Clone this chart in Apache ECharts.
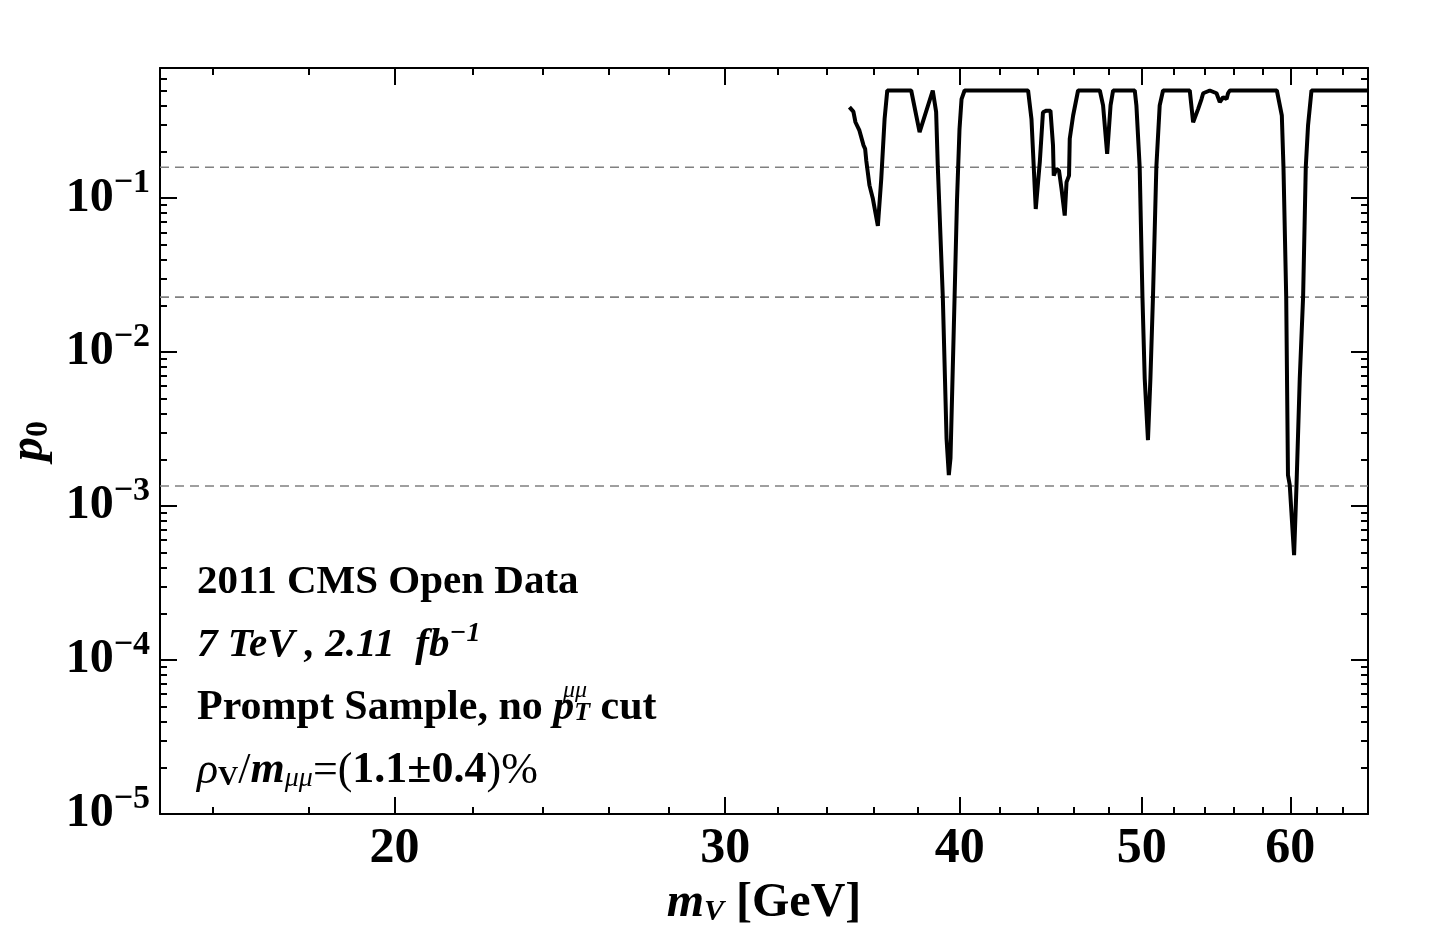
<!DOCTYPE html>
<html>
<head>
<meta charset="utf-8">
<title>p0 scan</title>
<script src="https://cdn.jsdelivr.net/npm/echarts@6/dist/echarts.min.js"></script>
<style>
    html, body { margin: 0; padding: 0; background: #fff; }
    #chart { width: 1438px; height: 936px; }
</style>
</head>
<body>
<div id="chart"></div>
<script>
'use strict';

// scan points
const massGeV = [
    34.94, 35.11, 35.20, 35.37, 35.55, 35.62, 35.67, 35.81, 35.96, 36.18,
    36.33, 36.48, 36.60, 37.69, 38.08, 38.70, 38.86, 38.94, 39.18, 39.36,
    39.47, 39.55, 39.75, 39.87, 39.99, 40.09, 40.24, 43.50, 43.68, 43.91,
    44.13, 44.30, 44.49, 44.71, 44.85, 44.89, 45.04, 45.18, 45.32, 45.50,
    45.60, 45.74, 45.78, 45.97, 46.25, 47.50, 47.69, 47.93, 48.13, 48.28,
    49.58, 49.68, 49.88, 50.05, 50.19, 50.39, 50.54, 50.70, 50.91, 51.12,
    51.33, 53.04, 53.26, 53.59, 53.81, 53.92, 54.36, 54.81, 55.03, 55.26,
    55.49, 55.59, 55.71, 59.02, 59.38, 59.50, 59.70, 59.83, 59.96, 60.28,
    60.46, 60.70, 60.95, 61.15, 61.32, 61.58, 66.0
];
const pValue = [
    0.39, 0.365, 0.311, 0.275, 0.22, 0.209, 0.175, 0.121, 0.099, 0.066,
    0.133, 0.327, 0.5, 0.5, 0.268, 0.5, 0.363, 0.16, 0.0228, 0.00274,
    0.00159, 0.00204, 0.0228, 0.099, 0.28, 0.44, 0.5, 0.5, 0.327, 0.085,
    0.172, 0.361, 0.37, 0.37, 0.22, 0.14, 0.155, 0.151, 0.115, 0.077,
    0.127, 0.14, 0.243, 0.344, 0.5, 0.5, 0.4, 0.194, 0.4, 0.5,
    0.5, 0.4, 0.159, 0.0228, 0.0067, 0.00268, 0.0067, 0.0228, 0.159, 0.4,
    0.5, 0.5, 0.311, 0.38, 0.44, 0.48, 0.5, 0.48, 0.42, 0.452,
    0.44, 0.48, 0.5, 0.5, 0.344, 0.159, 0.0228, 0.00159, 0.00137, 0.00048,
    0.00137, 0.0067, 0.0228, 0.159, 0.296, 0.5, 0.5
];

// 1, 2, 3 sigma reference lines
const sigmaLevels = [0.1587, 0.02275, 0.00135];

const xMajorTicks = [20, 30, 40, 50, 60];
const xMinorTicks = [16, 18, 22, 24, 26, 28, 32, 34, 36, 38, 42, 44, 46, 48, 52, 54, 56, 58, 62, 64];
const yMajorTicks = [1e-5, 1e-4, 1e-3, 1e-2, 1e-1];

const xRange = [15, 66];
const yRange = [1e-5, 0.7];

const yMinorTicks = [];
yMajorTicks.forEach(dec => {
    for (let k = 2; k <= 9; k++) {
        const v = +(dec * k).toPrecision(3);
        if (v < yRange[1]) yMinorTicks.push(v);
    }
});

const serif = '"Liberation Serif", "DejaVu Serif", serif';

const points = massGeV.map((m, i) => [m, pValue[i]]);

// one axis per side for the long ticks, one more for the short ones
const makeX = (pos, ticks, len, withLabels) => ({
    type: 'log',
    position: pos,
    min: xRange[0],
    max: xRange[1],
    gridIndex: 0,
    axisLine: { show: len > 10, lineStyle: { color: '#000', width: 2 } },
    axisTick: { show: true, inside: true, length: len, customValues: ticks, lineStyle: { color: '#000', width: 2 } },
    axisLabel: withLabels ? {
        show: true,
        customValues: ticks,
        margin: 10,
        color: '#000',
        fontFamily: serif,
        fontWeight: 'bold',
        fontSize: 50
    } : { show: false },
    splitLine: { show: false },
    minorTick: { show: false }
});

const makeY = (pos, ticks, len, withLabels) => ({
    type: 'log',
    logBase: 10,
    position: pos,
    min: yRange[0],
    max: yRange[1],
    gridIndex: 0,
    axisLine: { show: len > 10, lineStyle: { color: '#000', width: 2 } },
    axisTick: { show: true, inside: true, length: len, customValues: ticks, lineStyle: { color: '#000', width: 2 } },
    axisLabel: withLabels ? {
        show: true,
        customValues: ticks,
        margin: 10,
        formatter: v => '{b|10}{s|\u2212' + (-Math.round(Math.log10(v))) + '}',
        rich: {
            b: { fontFamily: serif, fontWeight: 'bold', fontSize: 48, color: '#000' },
            s: { fontFamily: serif, fontWeight: 'bold', fontSize: 34, color: '#000', padding: [0, 0, 30, 0] }
        }
    } : { show: false },
    splitLine: { show: false },
    minorTick: { show: false }
});

const xAxes = [
    makeX('bottom', xMajorTicks, 17, true),
    makeX('bottom', xMinorTicks, 7, false),
    makeX('top', xMajorTicks, 17, false),
    makeX('top', xMinorTicks, 7, false)
];
xAxes[0].name = '{mi|m}{sub|V}{n| [GeV]}';
xAxes[0].nameLocation = 'middle';
xAxes[0].nameGap = 66;
xAxes[0].nameTextStyle = {
    rich: {
        mi: { fontFamily: serif, fontStyle: 'italic', fontWeight: 'bold', fontSize: 48, color: '#000' },
        sub: { fontFamily: serif, fontStyle: 'italic', fontWeight: 'bold', fontSize: 30, color: '#000', padding: [16, 0, 0, 0] },
        n: { fontFamily: serif, fontWeight: 'bold', fontSize: 48, color: '#000' }
    }
};

const yAxes = [
    makeY('left', yMajorTicks, 17, true),
    makeY('left', yMinorTicks, 7, false),
    makeY('right', yMajorTicks, 17, false),
    makeY('right', yMinorTicks, 7, false)
];
yAxes[0].name = '{mi|p}{sub|0}';
yAxes[0].nameLocation = 'middle';
yAxes[0].nameGap = 104;
yAxes[0].nameRotate = 90;
yAxes[0].nameTextStyle = {
    rich: {
        mi: { fontFamily: serif, fontStyle: 'italic', fontWeight: 'bold', fontSize: 48, color: '#000' },
        sub: { fontFamily: serif, fontWeight: 'bold', fontSize: 32, color: '#000', padding: [18, 0, 0, 0] }
    }
};

const sigmaSeries = sigmaLevels.map(v => ({
    type: 'line',
    xAxisIndex: 0,
    yAxisIndex: 0,
    data: [[xRange[0], v], [xRange[1], v]],
    showSymbol: false,
    silent: true,
    lineStyle: { color: '#808080', width: 1.6, type: [9, 6] },
    z: 2
}));

const chart = echarts.init(document.getElementById('chart'));

chart.setOption({
    backgroundColor: '#fff',
    animation: false,
    grid: { left: 160, top: 68, width: 1208, height: 746, containLabel: false, outerBoundsMode: 'none' },
    xAxis: xAxes,
    yAxis: yAxes,
    graphic: [
        {
            type: 'text', x: 197, y: 582,
            style: {
                text: '2011 CMS Open Data',
                font: 'bold 41px ' + serif,
                fill: '#000',
                verticalAlign: 'middle'
            }
        },
        {
            type: 'text', x: 197, y: 645,
            style: {
                text: '{it|7 TeV , 2.11  fb}{sup|\u22121}',
                verticalAlign: 'middle',
                rich: {
                    it: { fontFamily: serif, fontStyle: 'italic', fontWeight: 'bold', fontSize: 41, fill: '#000' },
                    sup: { fontFamily: serif, fontStyle: 'italic', fontWeight: 'bold', fontSize: 28, fill: '#000', padding: [0, 0, 22, 0] }
                }
            }
        },
        {
            type: 'text', x: 197, y: 708,
            style: {
                text: '{b|Prompt Sample, no }{it|p}{sub|T}{b| cut}',
                verticalAlign: 'middle',
                rich: {
                    b: { fontFamily: serif, fontWeight: 'bold', fontSize: 42, fill: '#000' },
                    it: { fontFamily: serif, fontStyle: 'italic', fontWeight: 'bold', fontSize: 42, fill: '#000' },
                    sub: { fontFamily: serif, fontStyle: 'italic', fontWeight: 'bold', fontSize: 26, fill: '#000', padding: [10, 0, 0, 0] }
                }
            }
        },
        {
            type: 'text', x: 563, y: 691,
            style: {
                text: '\u03bc\u03bc',
                font: 'italic 24px ' + serif,
                fill: '#000',
                verticalAlign: 'middle'
            }
        },
        {
            type: 'text', x: 197, y: 771,
            style: {
                text: '{g|\u03c1}{gs|V}{n|/}{mi|m}{ms|\u03bc\u03bc}{n|=(}{b|1.1\u00b10.4}{n|)%}',
                verticalAlign: 'middle',
                rich: {
                    g: { fontFamily: serif, fontStyle: 'italic', fontSize: 44, fill: '#000' },
                    gs: { fontFamily: serif, fontWeight: 'bold', fontSize: 28, fill: '#000', padding: [14, 0, 0, 0] },
                    n: { fontFamily: serif, fontSize: 44, fill: '#000' },
                    mi: { fontFamily: serif, fontStyle: 'italic', fontWeight: 'bold', fontSize: 44, fill: '#000' },
                    ms: { fontFamily: serif, fontStyle: 'italic', fontSize: 28, fill: '#000', padding: [16, 0, 0, 0] },
                    b: { fontFamily: serif, fontWeight: 'bold', fontSize: 44, fill: '#000' }
                }
            }
        }
    ],
    series: sigmaSeries.concat([
        {
            type: 'line',
            xAxisIndex: 0,
            yAxisIndex: 0,
            data: points,
            showSymbol: false,
            lineStyle: { color: '#000', width: 4 },
            z: 5
        }
    ])
});
</script>
</body>
</html>
